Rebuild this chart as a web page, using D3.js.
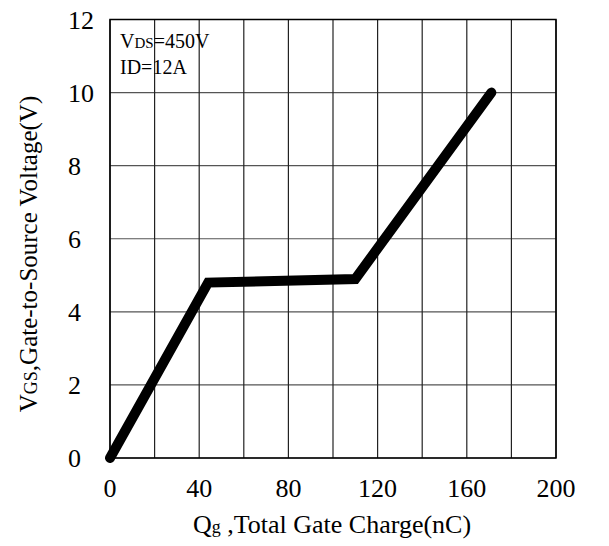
<!DOCTYPE html>
<html>
<head>
<meta charset="utf-8">
<script src="https://cdn.jsdelivr.net/npm/d3@7"></script>
<style>
  body { margin: 0; background: #fff; }
  text { font-family: "Liberation Serif", "Times New Roman", serif; fill: #000; }
</style>
</head>
<body>
<div id="main"></div>
<script>
// gate charge curve
var qg = [0, 44, 110, 171];
var vgs = [0, 4.8, 4.9, 10];
var xTicks = [0, 40, 80, 120, 160, 200];
var yTicks = [0, 2, 4, 6, 8, 10, 12];
var xGrid = d3.range(0, 201, 20);
var yGrid = [0, 2, 4, 6, 8, 10, 12];

var W = 609, H = 546,
    pL = 110, pR = 556, pT = 19.5, pB = 458;

var svg = d3.select("#main").append("svg")
    .attr("width", W)
    .attr("height", H);

var x = d3.scaleLinear().domain([0, 200]).range([pL, pR]);
var y = d3.scaleLinear().domain([0, 12]).range([pB, pT]);

//===== grid =====
svg.append("g").selectAll("line")
  .data(yGrid)
  .enter().append("line")
    .attr("x1", pL).attr("x2", pR)
    .attr("y1", function(d){ return y(d); })
    .attr("y2", function(d){ return y(d); })
    .attr("stroke", "#555")
    .attr("stroke-width", 1.2);

svg.append("g").selectAll("line")
  .data(xGrid)
  .enter().append("line")
    .attr("x1", function(d){ return x(d); })
    .attr("x2", function(d){ return x(d); })
    .attr("y1", pT).attr("y2", pB)
    .attr("stroke", "#222")
    .attr("stroke-width", 1.2);

svg.append("rect")
  .attr("x", pL).attr("y", pT)
  .attr("width", pR - pL).attr("height", pB - pT)
  .attr("fill", "none")
  .attr("stroke", "#000")
  .attr("stroke-width", 1.5);

//===== tick labels =====
svg.append("g").selectAll("text")
  .data(xTicks)
  .enter().append("text")
    .attr("x", function(d){ return x(d); })
    .attr("y", 497)
    .attr("text-anchor", "middle")
    .style("font-size", "26px")
    .text(function(d){ return d; });

svg.append("g").selectAll("text")
  .data(yTicks)
  .enter().append("text")
    .attr("x", 68)
    .attr("y", function(d){ return y(d) + 9; })
    .attr("text-anchor", "start")
    .style("font-size", "26px")
    .text(function(d){ return d; });

//===== axis titles =====
var xt = svg.append("text")
  .attr("x", 332).attr("y", 533)
  .attr("text-anchor", "middle")
  .style("font-size", "26px");
xt.append("tspan").text("Q");
xt.append("tspan").style("font-size", "18px").text("g");
xt.append("tspan").text(" ,Total Gate Charge(nC)");

var yt = svg.append("text")
  .attr("transform", "translate(37,254) rotate(-90)")
  .attr("text-anchor", "middle")
  .style("font-size", "25px");
yt.append("tspan").text("V");
yt.append("tspan").style("font-size", "18px").text("GS");
yt.append("tspan").text(",Gate-to-Source Voltage(V)");

//===== conditions =====
var c1 = svg.append("text").attr("x", 120).attr("y", 47.5).style("font-size", "20px");
c1.append("tspan").text("V");
c1.append("tspan").style("font-size", "15px").text("DS");
c1.append("tspan").text("=450V");
svg.append("text").attr("x", 120).attr("y", 74).style("font-size", "20px").text("ID=12A");

//===== curve =====
var line = d3.line()
  .x(function(d){ return x(d[0]); })
  .y(function(d){ return y(d[1]); });

svg.append("path")
  .datum(d3.zip(qg, vgs))
  .attr("d", line)
  .attr("fill", "none")
  .attr("stroke", "#000")
  .attr("stroke-width", 10)
  .attr("stroke-linecap", "round")
  .attr("stroke-linejoin", "miter");
</script>
</body>
</html>
